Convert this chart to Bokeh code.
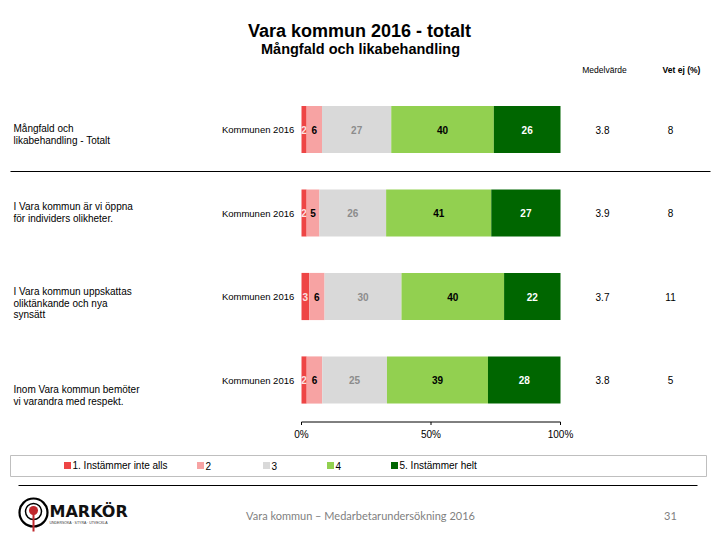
from bokeh.plotting import figure
from bokeh.models import Range1d, ColumnDataSource
from bokeh.core.properties import value
from bokeh.embed import file_html
from bokeh.resources import INLINE
import numpy as np

# ---------------- data ----------------
questions = [
    ["Mångfald och", "likabehandling - Totalt"],
    ["I Vara kommun är vi öppna", "för individers olikheter."],
    ["I Vara kommun uppskattas", "oliktänkande och nya", "synsätt"],
    ["Inom Vara kommun bemöter", "vi varandra med respekt."],
]
group_label = "Kommunen 2016"
s1 = [2, 2, 3, 2]
s2 = [6, 5, 6, 6]
s3 = [27, 26, 30, 25]
s4 = [40, 41, 40, 39]
s5 = [26, 27, 22, 28]
means = ["3.8", "3.9", "3.7", "3.8"]
vet_ej = ["8", "8", "11", "5"]
legend_labels = ["1. Instämmer inte alls", "2", "3", "4", "5. Instämmer helt"]
colors = ["#EE4545", "#F7A3A3", "#D9D9D9", "#92D050", "#006600"]
label_colors = ["#FBE0E0", "#000000", "#8C8C8C", "#000000", "#FFFFFF"]
tick_values = [0, 50, 100]
tick_labels = ["0%", "50%", "100%"]

FONT = "Liberation Sans"
W, H = 712, 532
OX, OY = 0, 0  # page position of the canvas origin

# main x range maps 0..100 % to page px 301..560
ppu = (560 - 301) / 100.0
x0 = -(301 - OX) / ppu
x1 = x0 + W / ppu
row_px = [129, 214.5, 296, 379.5]
spacing = 83.5
y_top = (OY - row_px[0]) / spacing
y_bot = (OY + H - row_px[0]) / spacing

p = figure(width=W, height=H, output_backend="svg", toolbar_location=None,
           x_range=Range1d(x0, x1), y_range=Range1d(y_bot, y_top),
           min_border=0, min_border_left=0, min_border_right=0,
           min_border_top=0, min_border_bottom=0)
p.axis.visible = False
p.grid.visible = False
p.outline_line_color = None
p.background_fill_color = "white"
p.border_fill_color = "white"
p.extra_x_ranges = {"px": Range1d(OX, OX + W)}
p.extra_y_ranges = {"py": Range1d(OY + H, OY)}


def ptext(x, y, t, size=10, bold=False, color="#000000", align="left", font=FONT):
    p.text(x=[x], y=[y], text=[t], x_range_name="px", y_range_name="py",
           text_font=value(font), text_font_size=f"{size}px",
           text_font_style="bold" if bold else "normal", text_color=color,
           text_align=align, text_baseline="middle")


# ---------------- bars (each row scaled to 100 %) ----------------
series = [s1, s2, s3, s4, s5]
rows = list(range(len(s1)))
totals = np.sum(np.array(series, dtype=float), axis=0)
left = np.zeros(len(s1))
for k, s in enumerate(series):
    raw = np.array(s, dtype=float)
    w = raw / totals * 100.0
    src = ColumnDataSource(dict(y=rows, left=left, right=left + w,
                                mid=left + w / 2, lab=[str(int(v)) for v in raw]))
    p.hbar(y="y", left="left", right="right", height=0.565, source=src,
           fill_color=colors[k], line_color=None)
    p.text(x="mid", y="y", text="lab", source=src, text_font=value(FONT),
           text_font_size="10px", text_font_style="bold",
           text_color=label_colors[k], text_align="center", text_baseline="middle")
    left = left + w

# group labels, means, vet ej
p.text(x=[-2.8] * len(rows), y=rows, text=[group_label] * len(rows),
       text_font=value(FONT), text_font_size="9.5px", text_color="#000000",
       text_align="right", text_baseline="middle")
p.text(x=[(602 - 301) / ppu] * len(rows), y=rows, text=means,
       text_font=value(FONT), text_font_size="10px", text_color="#000000",
       text_align="center", text_baseline="middle")
p.text(x=[(670 - 301) / ppu] * len(rows), y=rows, text=vet_ej,
       text_font=value(FONT), text_font_size="10px", text_color="#000000",
       text_align="center", text_baseline="middle")

# question texts
q_first = [128, 206, 291, 389]
for q, yy in zip(questions, q_first):
    for j, line in enumerate(q):
        ptext(13, yy + j * 11.5, line, size=10)

# axis
ax_y = (421.5 - row_px[0]) / spacing
p.segment(x0=[0], y0=[ax_y], x1=[100], y1=[ax_y], line_color="#000000", line_width=1)
tick_len = 3 / spacing
p.segment(x0=tick_values, y0=[ax_y] * 3, x1=tick_values, y1=[ax_y + tick_len] * 3,
          line_color="#000000", line_width=1)
p.text(x=tick_values, y=[(434 - row_px[0]) / spacing] * 3, text=tick_labels,
       text_font=value(FONT), text_font_size="10px", text_color="#000000",
       text_align="center", text_baseline="middle")

# titles
ptext(359, 30, "Vara kommun 2016 - totalt", size=18, bold=True, align="center")
ptext(360, 48, "Mångfald och likabehandling", size=14.5, bold=True, align="center")
ptext(604, 69, "Medelvärde", size=8.5, align="center")
ptext(681, 69, "Vet ej (%)", size=8.5, bold=True, align="center")

# separator
p.segment(x0=[10], y0=[171], x1=[710], y1=[171], x_range_name="px", y_range_name="py",
          line_color="#000000", line_width=1)

# legend box
p.quad(left=[10], right=[706], top=[455], bottom=[476], x_range_name="px",
       y_range_name="py", fill_color="white", line_color="#BFBFBF", line_width=1)
leg_x = [67, 200, 266, 330, 394]
for lx, c, t in zip(leg_x, colors, legend_labels):
    p.quad(left=[lx - 3.5], right=[lx + 3.5], top=[461.5], bottom=[468.5],
           x_range_name="px", y_range_name="py", fill_color=c, line_color=None)
    ptext(lx + 5, 465, t, size=10)

# footer
p.segment(x0=[18], y0=[485], x1=[697], y1=[485], x_range_name="px", y_range_name="py",
          line_color="#000000", line_width=1)
ptext(360, 515, "Vara kommun – Medarbetarundersökning 2016", size=11,
      color="#7F7F7F", align="center", font="Lato")
ptext(670, 515, "31", size=11, color="#7F7F7F", align="center", font="Lato")

# logo
p.circle(x=[33], y=[512], radius=14, x_range_name="px", y_range_name="py",
         fill_color=None, line_color="#000000", line_width=2.2)
p.circle(x=[33], y=[511], radius=8, x_range_name="px", y_range_name="py",
         fill_color=None, line_color="#000000", line_width=1.5)
p.circle(x=[33], y=[510], radius=4.5, x_range_name="px", y_range_name="py",
         fill_color="#C0282D", line_color=None)
p.segment(x0=[33], y0=[513], x1=[33], y1=[531], x_range_name="px", y_range_name="py",
          line_color="#C0282D", line_width=2)
ptext(49, 511, "MARKÖR", size=16, bold=True, color="#111111", font="DejaVu Sans")
ptext(49, 522, "UNDERSÖKA · STYRA · UTVECKLA", size=3.5, color="#333333")

open("out.html", "w").write(file_html(p, INLINE))
